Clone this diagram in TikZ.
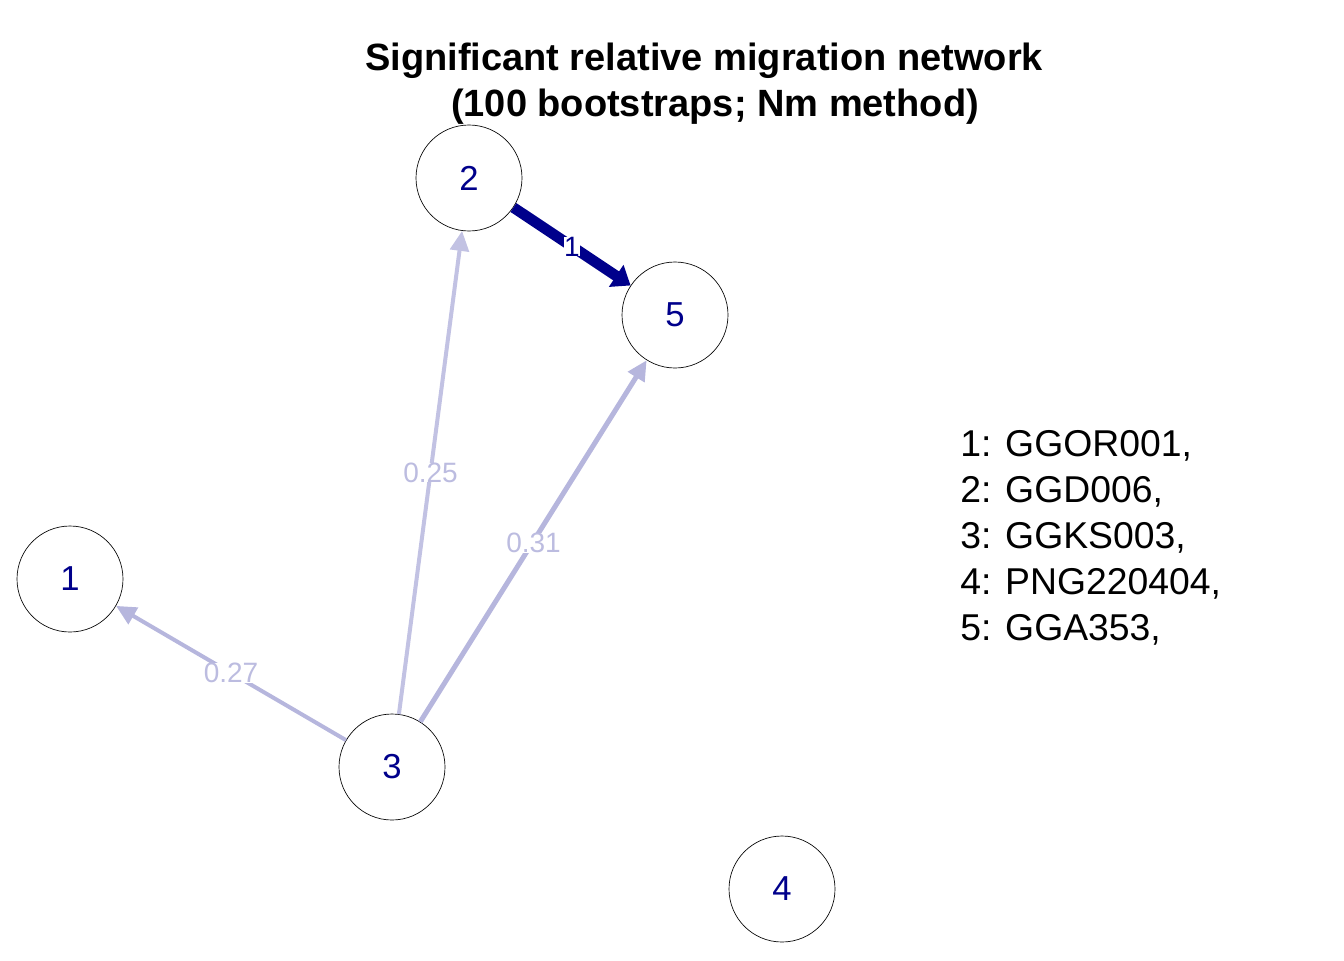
\documentclass[tikz,border=0pt]{standalone}
\usepackage{fontspec}
\setmainfont{Liberation Sans}
\usepackage{tikz}
\usetikzlibrary{arrows.meta}
\definecolor{nodeblue}{HTML}{00008B}
\definecolor{edgelight}{HTML}{C2C2E3}
\definecolor{edgemid}{HTML}{B6B6DD}
\definecolor{edgetext}{HTML}{BCBCE0}
\tikzset{
	pop/.style={draw=black, line width=0.5pt, circle, minimum size=79.5pt, inner sep=0pt, text=nodeblue, font=\fontsize{26}{30}\selectfont},
	weak/.style={line width=3pt, -{Triangle[length=15pt, width=14pt]}},
	strong/.style={draw=nodeblue, line width=8pt, -{Triangle[length=13pt, width=19pt]}},
	wlabel/.style={midway, fill=white, inner sep=0pt, text=edgetext, font=\fontsize{21}{24}\selectfont},
	legend/.style={inner sep=0pt, anchor=base west, font=\fontsize{28}{34}\selectfont}
}
\begin{document}
\begin{tikzpicture}[x=0.75pt, y=-0.75pt]
			%%%%% START %%%%%
			\useasboundingbox (0, 0) rectangle (1344, 960);
			
			\node[inner sep=0pt, align=center, font=\fontsize{28.5}{34.5}\selectfont\bfseries] (title) at (704, 84) {Significant relative migration network\\\hspace*{16.5pt}(100 bootstraps; Nm method)};
			
			\node[pop] (p1) at (70, 579) {1};
			\node[pop] (p2) at (469, 178) {2};
			\node[pop] (p3) at (392, 767) {3};
			\node[pop] (p4) at (782, 889) {4};
			\node[pop] (p5) at (675, 315) {5};
			
			\draw[weak, draw=edgemid] (p3) -- (p1) node[wlabel] {0.27};
			\draw[weak, draw=edgelight] (p3) -- (p2) node[wlabel] {0.25};
			\draw[weak, line width=3.75pt, draw=edgemid] (p3) -- (p5) node[wlabel, yshift=-1.5pt] {0.31};
			\draw[strong] (p2) -- (p5) node[wlabel, text=nodeblue] {1};
			
			\foreach \i/\pname in {1/GGOR001, 2/GGD006, 3/GGKS003, 4/PNG220404, 5/GGA353}
				\node[legend] (leg\i) at (960, 410+46*\i) {\i: \pname,};
			
			%%%%% END %%%%%
		\end{tikzpicture}
\end{document}
